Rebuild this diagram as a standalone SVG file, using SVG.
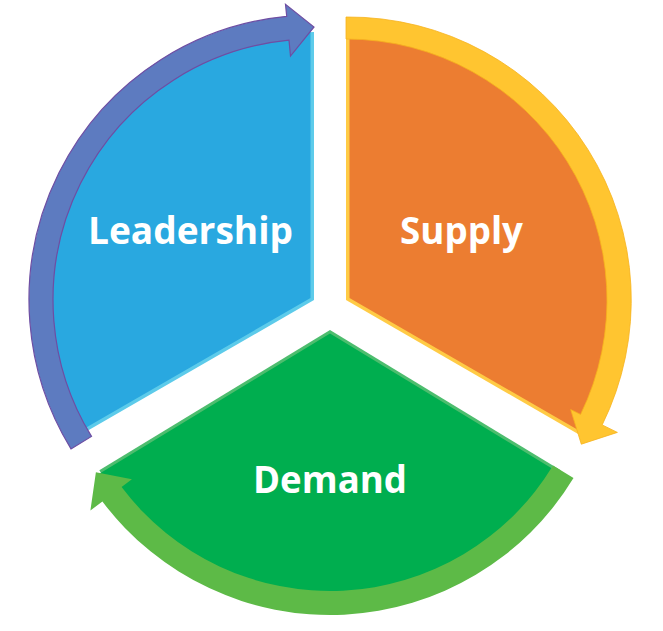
<svg xmlns="http://www.w3.org/2000/svg" width="663" height="631" viewBox="0 0 663 631">
<style>
.lbl{font-family:"Open Sans","Liberation Sans",sans-serif;font-weight:bold;font-size:38px;fill:#ffffff;text-anchor:middle}
</style>
<rect width="663" height="631" fill="#ffffff"/>
<g id="leadership">
<path d="M314,300 L81.9,434 A268,268 0 0 1 314,32 Z" fill="#5DCBEA"/>
<path d="M314,300 L81.9,434 A268,268 0 0 1 314,32 Z" fill="#29A8E0" transform="translate(-3.5,-2)"/>
<text class="lbl" x="190.5" y="244" textLength="205" lengthAdjust="spacingAndGlyphs">Leadership</text>
</g>
<g id="supply">
<path d="M346,300 L346,32 A268,268 0 0 1 578.1,434 Z" fill="#FFCB45"/>
<path d="M346,300 L346,32 A268,268 0 0 1 578.1,434 Z" fill="#EC7D31" transform="translate(3.5,-2)"/>
<text class="lbl" x="461.5" y="244" textLength="123" lengthAdjust="spacingAndGlyphs">Supply</text>
</g>
<g id="demand">
<path d="M330,330 L560.7,470.3 A270,270 0 0 1 99.3,470.3 Z" fill="#4DBD6E"/>
<path d="M330,330 L560.7,470.3 A270,270 0 0 1 99.3,470.3 Z" fill="#00AE4F" transform="translate(0,3.5)"/>
<text class="lbl" x="330" y="493" textLength="154" lengthAdjust="spacingAndGlyphs">Demand</text>
</g>
<g id="connectors">
<path id="arrow-leadership" d="M71.0,448.9 A285,285 0 0 1 286.7,16.3 L285.5,4.4 L314,27 L290.5,56.1 L289.0,40.2 A261,261 0 0 0 91.5,436.4 Z" fill="#5D7BC0" stroke="#6E4EA3" stroke-width="1.2" stroke-linejoin="miter"/>
<path id="arrow-supply" d="M346,17 L346,17 A283,283 0 0 1 602.2,424.9 L617.4,432.4 L581.3,444.2 L570.7,409.6 L580.6,414.4 A261,261 0 0 0 346,39 Z" fill="#FFC530" stroke="#F6B21E" stroke-width="0.8"/>
<path id="arrow-demand" d="M573.5,478.1 A285,285 0 0 1 102.4,501.5 L90.4,510.5 L95.9,472.3 L131.9,479.3 L121.6,487.1 A261,261 0 0 0 553.0,465.6 Z" fill="#5DBA47"/>
</g>
</svg>
